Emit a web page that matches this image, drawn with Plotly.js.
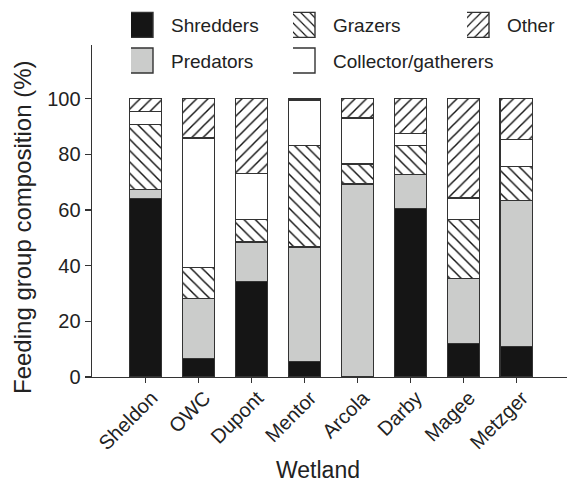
<!DOCTYPE html>
<html>
<head>
<meta charset="utf-8">
<script src="https://cdn.plot.ly/plotly-3.0.1.min.js"></script>
<style>html,body{margin:0;padding:0;background:#fff;}#chart{width:567px;height:484px;}</style>
</head>
<body>
<div id="chart"></div>
<script>
const categories = ['Sheldon','OWC','Dupont','Mentor','Arcola','Darby','Magee','Metzger'];
const shredders  = [64.1, 6.6, 34.3, 5.6, 0.0, 60.5, 12.0, 11.0];
const predators  = [3.2, 21.6, 14.2, 41.1, 69.4, 12.3, 23.3, 52.4];
const grazers    = [23.4, 11.1, 8.1, 36.4, 7.1, 10.3, 21.3, 12.2];
const collectors = [4.7, 46.6, 16.6, 16.5, 16.6, 4.3, 7.7, 9.8];
const other      = [4.6, 14.1, 26.8, 0.4, 6.9, 12.6, 35.7, 14.6];
const yTicks = [0, 20, 40, 60, 80, 100];
const xTitle = 'Wetland';
const yTitle = 'Feeding group composition (%)';

const FONT = 'Liberation Sans, Arial, Helvetica, sans-serif';

function bar(name, y, color, pattern, legend, group) {
  const t = {
    type: 'bar', name: name, x: categories, y: y,
    marker: {color: color, line: {color: '#333', width: 1.4}},
    legend: legend, legendgroup: group,
    hoverinfo: 'skip'
  };
  if (pattern) {
    t.marker.pattern = {shape: pattern, fgcolor: '#111', bgcolor: '#fff', size: 8, solidity: 0.18};
  }
  return t;
}

const data = [
  bar('Shredders', shredders, '#151515', null, 'legend', 'a'),
  bar('Predators', predators, '#cbcccb', null, 'legend', 'b'),
  bar('Grazers', grazers, '#fff', '\\', 'legend2', 'c'),
  bar('Collector/gatherers', collectors, '#fff', null, 'legend2', 'd'),
  bar('Other', other, '#fff', '/', 'legend3', 'e')
];

function legendAt(px) {
  return {
    xref: 'container', yref: 'container', xanchor: 'left', yanchor: 'top',
    x: px / 567, y: 1 - 6 / 484,
    orientation: 'v', traceorder: 'grouped', tracegroupgap: 8,
    font: {family: FONT, size: 19, color: '#222'},
    bgcolor: 'rgba(0,0,0,0)', borderwidth: 0, itemclick: false, itemdoubleclick: false
  };
}

const layout = {
  width: 567, height: 484,
  margin: {l: 92, r: 0, t: 45, b: 107, pad: 0, autoexpand: false},
  paper_bgcolor: '#fff', plot_bgcolor: '#fff',
  barmode: 'stack', bargap: 0.395,
  font: {family: FONT, color: '#222'},
  showlegend: true,
  legend: legendAt(131),
  legend2: legendAt(293),
  legend3: legendAt(467),
  xaxis: {
    type: 'category', range: [-1.015, 7.96],
    showline: true, linecolor: '#333', linewidth: 1.4,
    ticks: 'outside', ticklen: 5, tickcolor: '#333', tickwidth: 1.2,
    tickangle: -45, tickfont: {family: FONT, size: 20, color: '#222'},
    ticklabelshift: 6, ticklabelstandoff: -5,
    showgrid: false, zeroline: false, automargin: false
  },
  yaxis: {
    range: [0, 119.3], tickmode: 'array', tickvals: yTicks, ticktext: yTicks.map(String),
    showline: true, linecolor: '#333', linewidth: 1.4,
    ticks: 'outside', ticklen: 6, tickcolor: '#333', tickwidth: 1.2,
    tickfont: {family: FONT, size: 20, color: '#222'},
    showgrid: false, zeroline: false, automargin: false
  },
  annotations: [
    {text: xTitle, xref: 'paper', yref: 'paper', x: (318 - 92) / 475, y: (377 - 484) / 332,
     xanchor: 'center', yanchor: 'bottom', showarrow: false, borderpad: 0,
     font: {family: FONT, size: 23, color: '#222'}},
    {text: yTitle, xref: 'paper', yref: 'paper', x: (22.5 - 92) / 475, y: (377 - 227.5) / 332,
     xanchor: 'center', yanchor: 'middle', textangle: -90, showarrow: false,
     font: {family: FONT, size: 24, color: '#222'}}
  ]
};

Plotly.newPlot('chart', data, layout, {staticPlot: true, displayModeBar: false}).then(function () {
  document.querySelectorAll('.legendpoints path').forEach(function (p) {
    p.setAttribute('d', 'M2,12.5H-28V-12.5H2Z');
  });
});
</script>
</body>
</html>
